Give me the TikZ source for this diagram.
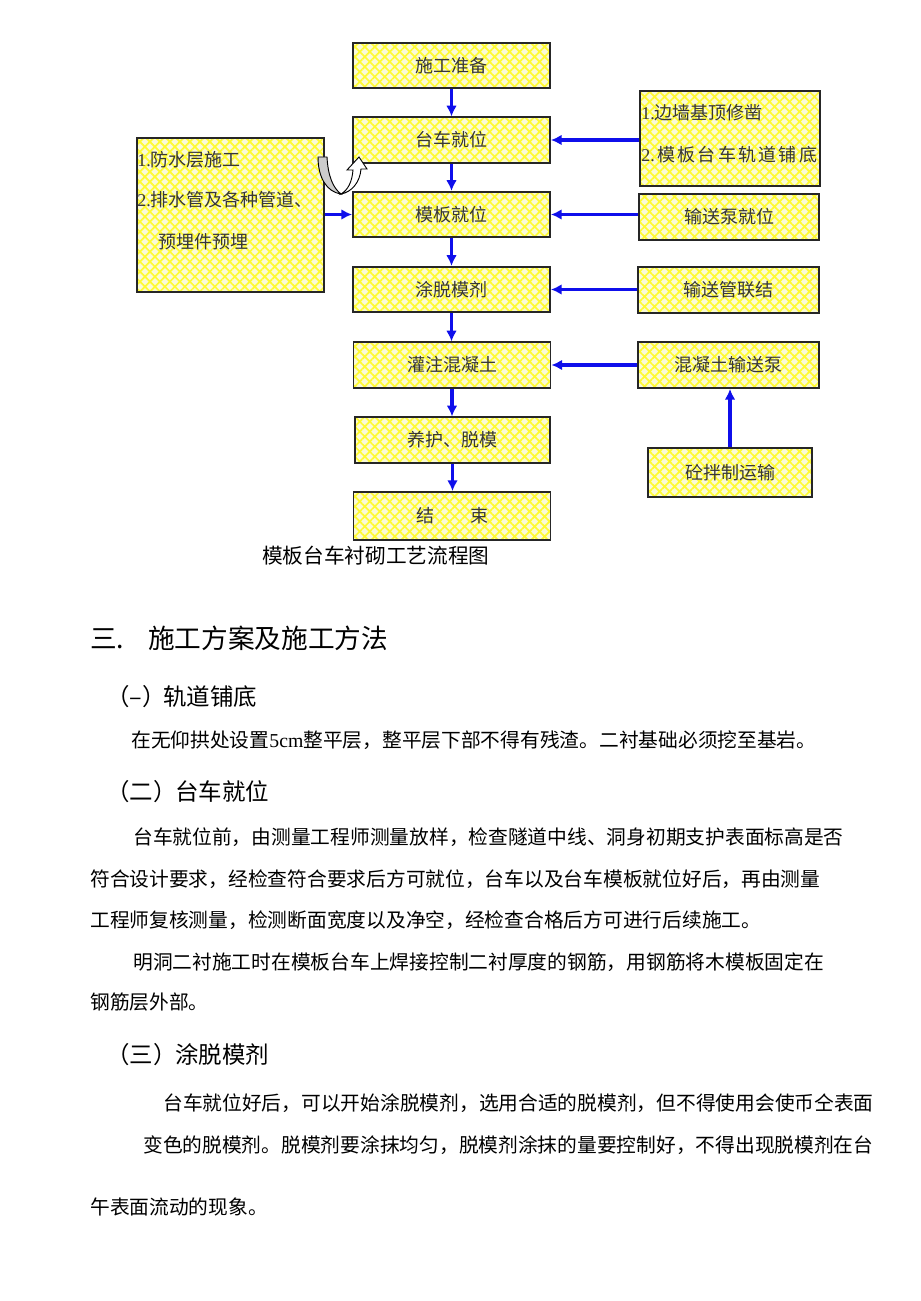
\documentclass[tikz,border=0pt]{standalone}
\usepackage{fontspec}
\setmainfont{Noto Sans CJK SC}
\newfontfamily\lat{Liberation Serif}
\usetikzlibrary{arrows.meta,patterns.meta}
\definecolor{byel}{RGB}{250,250,215}
\definecolor{hatchc}{RGB}{255,250,50}
\definecolor{arrblue}{RGB}{15,15,235}
\definecolor{btxt}{RGB}{55,55,55}
\tikzset{
 box/.style={draw=black!85, line width=1.4pt, preaction={fill=byel},
   preaction={pattern={Hatch[angle=45,distance=5.3pt,line width=1.3pt]}, pattern color=hatchc},
   inner sep=0pt, font=\fontsize{13.5}{14}\selectfont, text=btxt},
 mbox/.style={box, minimum width=147.75pt, minimum height=34pt},
 sbox/.style={box, minimum width=135.5pt, minimum height=34.5pt},
 btext/.style={anchor=west, inner sep=0pt, font=\fontsize{13.5}{14}\selectfont, text=btxt},
 flow/.style={draw=arrblue, line width=2.5pt, -{Latex[length=8pt,width=8pt]}},
 body/.style={anchor=west, inner sep=0pt, font=\fontsize{14.8}{16}\selectfont},
 head/.style={anchor=west, inner sep=0pt, font=\fontsize{17.6}{20}\selectfont},
}
\begin{document}
\begin{tikzpicture}[x=0.75pt,y=-0.75pt]
\fill[white] (0,0) rectangle (920,1301);
\path[use as bounding box] (0,0) rectangle (920,1301);

% main column
\node[mbox] (p1) at (451.5,65.5) {施工准备};
\node[mbox] (p2) at (451.5,140) {台车就位};
\node[mbox] (p3) at (451.5,214.5) {模板就位};
\node[mbox] (p4) at (451.5,289.5) {涂脱模剂};
\node[mbox] (p5) at (452,365) {灌注混凝土};
\node[mbox, minimum width=146.25pt] (p6) at (452.5,440) {养护、脱模};
\node[mbox, minimum height=36pt] (p7) at (452,516) {结\hspace{2em}束};

% left box
\node[box, minimum width=140.25pt, minimum height=115.5pt] (lb) at (230.5,215) {};
\node[btext] (lt1) at (137,160) {{\lat 1.}防水层施工};
\node[btext] (lt2) at (137,200) {{\lat 2.}排水管及各种管道、};
\node[btext] (lt3) at (158,242) {预埋件预埋};

% right boxes
\node[box, minimum width=135pt, minimum height=71.25pt] (rb) at (730,138.5) {};
\node[btext] (rt1) at (641,113) {{\lat 1.}边墙基顶修凿};
\node[btext] (rt2) at (641,155) {\makebox[132pt][s]{{\lat 2.}\hfill 模\hfill 板\hfill 台\hfill 车\hfill 轨\hfill 道\hfill 铺\hfill 底}};
\node[sbox] (r2) at (729,217) {输送泵就位};
\node[sbox] (r3) at (728.5,290) {输送管联结};
\node[sbox] (r4) at (728.5,365) {混凝土输送泵};
\node[box, minimum width=123pt, minimum height=36.75pt] (r5) at (730,472.5) {砼拌制运输};

% U-turn arrow
\filldraw[fill=gray!40, draw=black, line width=0.7pt]
  (318,157) -- (327,157) .. controls (328,176) and (333,188) .. (341,194)
  .. controls (327,192) and (318,178) .. (318,157) -- cycle;
\filldraw[fill=white, draw=black, line width=0.7pt]
  (341,194) .. controls (348,190) and (352,182) .. (353,170) -- (347,170) -- (359,157)
  -- (367,169) -- (361,169) .. controls (360,182) and (352,192) .. (341,194) -- cycle;

% connectors
\draw[flow] (p1.south) -- (p1.south |- p2.north);
\draw[flow] (p2.south) -- (p2.south |- p3.north);
\draw[flow] (p3.south) -- (p3.south |- p4.north);
\draw[flow] (p4.south) -- (p4.south |- p5.north);
\draw[flow] (p5.south) -- (p5.south |- p6.north);
\draw[flow] (p6.south) -- (p6.south |- p7.north);
\draw[flow] (rb.west |- p2.east) -- (p2.east);
\draw[flow] (r2.west |- p3.east) -- (p3.east);
\draw[flow] (r3.west |- p4.east) -- (p4.east);
\draw[flow] (r4.west |- p5.east) -- (p5.east);
\draw[flow] (lb.east |- p3.west) -- (p3.west);
\draw[flow] (r5.north) -- (r5.north |- r4.south);

% caption
\node[body, font=\fontsize{15.5}{17}\selectfont] (cap) at (262,556) {模板台车衬砌工艺流程图};

% text
\node[anchor=west, inner sep=0pt, font=\fontsize{20}{22}\selectfont] (h0) at (90,638) {\makebox[43.5pt][l]{三.}施工方案及施工方法};
\node[head] (h1) at (106,697) {\makebox[42.75pt][l]{（–）}轨道铺底};
\node[body] (b1) at (131,740) {在无仰拱处设置{\lat 5cm}整平层，整平层下部不得有残渣。二衬基础必须挖至基岩。};
\node[head] (h2) at (106,792) {\makebox[51.75pt][l]{（二）}台车就位};
\node[body] (b2) at (133,837) {台车就位前，由测量工程师测量放样，检查隧道中线、洞身初期支护表面标高是否};
\node[body] (b3) at (90,879) {符合设计要求，经检查符合要求后方可就位，台车以及台车模板就位好后，再由测量};
\node[body] (b4) at (90,920) {工程师复核测量，检测断面宽度以及净空，经检查合格后方可进行后续施工。};
\node[body] (b5) at (133,962) {明洞二衬施工时在模板台车上焊接控制二衬厚度的钢筋，用钢筋将木模板固定在};
\node[body] (b6) at (90,1002) {钢筋层外部。};
\node[head] (h3) at (106,1055) {\makebox[51.75pt][l]{（三）}涂脱模剂};
\node[body] (b7) at (163,1103) {台车就位好后，可以开始涂脱模剂，选用合适的脱模剂，但不得使用会使币仝表面};
\node[body] (b8) at (143,1145) {变色的脱模剂。脱模剂要涂抹均匀，脱模剂涂抹的量要控制好，不得出现脱模剂在台};
\node[body] (b9) at (90,1207) {午表面流动的现象。};
\end{tikzpicture}
\end{document}
